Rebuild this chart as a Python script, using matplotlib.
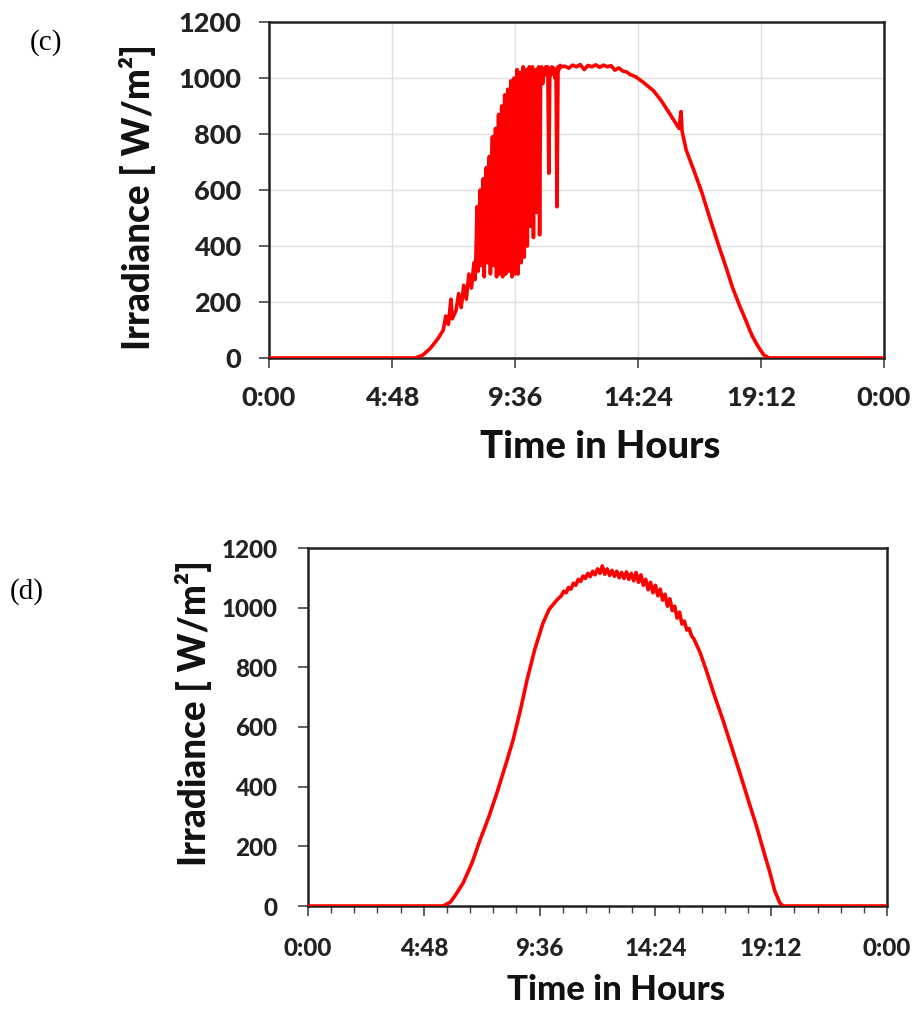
import matplotlib.pyplot as plt
import numpy as np

# panel (c): cloudy morning, clear afternoon
hours_c = [0, 5.7, 6.0, 6.3, 6.6, 6.8, 6.9, 7.0, 7.1, 7.15, 7.3, 7.4, 7.5, 7.6, 7.7, 7.8, 7.9, 8.0, 8.04,
           8.08, 8.12, 8.16, 8.20, 8.24, 8.28, 8.32, 8.36, 8.40, 8.44, 8.48, 8.52, 8.56, 8.60, 8.64, 8.68,
           8.72, 8.76, 8.80, 8.84, 8.88, 8.92, 8.96, 9.00, 9.04, 9.08, 9.12, 9.16, 9.20, 9.24, 9.28, 9.32,
           9.36, 9.40, 9.44, 9.48, 9.52, 9.56, 9.60, 9.64, 9.68, 9.72, 9.76, 9.80, 9.84, 9.88, 9.92, 9.96,
           10.00, 10.04, 10.08, 10.12, 10.16, 10.20, 10.24, 10.28, 10.32, 10.36, 10.40, 10.44, 10.48, 10.52,
           10.56, 10.60, 10.64, 10.68, 10.72, 10.76, 10.80, 10.84, 10.88, 10.92, 10.96, 11.00, 11.04, 11.08,
           11.12, 11.16, 11.20, 11.24, 11.28, 11.32, 11.36, 11.40,
           11.55, 11.7, 11.85, 12.0, 12.15, 12.3, 12.45, 12.6, 12.75, 12.9, 13.05, 13.2, 13.35, 13.5,
           13.65, 13.8, 13.95, 14.1, 14.3, 14.6, 15.0,
           15.3, 15.62, 16.0, 16.08, 16.12, 16.28, 16.6, 16.9, 17.2, 17.57, 17.85, 18.08, 18.35, 18.6,
           18.85, 19.1, 19.3, 19.5, 24]
irr_c = [0, 0, 10, 35, 70, 100, 150, 120, 210, 140, 170, 230, 180, 260, 210, 300, 250, 340, 280,
         380, 540, 310, 470, 600, 330, 560, 640, 290, 520, 680, 340, 610, 720, 300, 650,
         790, 330, 560, 820, 290, 700, 870, 300, 620, 900, 290, 760, 940, 300, 680, 960,
         310, 820, 990, 290, 700, 1000, 300, 880, 1030, 300, 760, 1020, 340, 960, 1040, 360,
         900, 1030, 400, 980, 1040, 470, 1010, 1040, 430, 990, 1030, 520, 1010, 1040,
         440, 1000, 1040, 980, 1030, 1010, 1040, 1020, 1040, 660, 1030, 1010, 1040, 1020,
         1035, 1000, 1030, 540, 1040, 1030, 1045, 1040,
         1042, 1035, 1046, 1040, 1048, 1030, 1045, 1040, 1047, 1038, 1046, 1040, 1044, 1028,
         1036, 1025, 1022, 1012, 1005, 985, 955,
         920, 875, 820, 880, 810, 743, 665, 589, 500, 396, 320, 254, 190, 136,
         80, 39, 12, 0, 0]

# panel (d): clear-sky day
hours_d = [0, 5.6, 5.9, 6.1, 6.43, 6.8, 7.13, 7.5, 7.83, 8.2, 8.5, 8.8, 9.08, 9.4, 9.74, 10.0, 10.32,
           10.5, 10.6, 10.7, 10.8, 10.9, 11.0, 11.1, 11.2, 11.3, 11.4, 11.5, 11.6, 11.7, 11.8, 11.9,
           12.0, 12.1, 12.2, 12.3, 12.4, 12.5, 12.6, 12.7, 12.8, 12.9, 13.0, 13.1, 13.2, 13.3, 13.4,
           13.5, 13.6, 13.7, 13.8, 13.9, 14.0, 14.1, 14.2, 14.3, 14.4, 14.5, 14.6, 14.7, 14.8, 14.9,
           15.0, 15.1, 15.2, 15.3, 15.4, 15.5, 15.6, 15.7, 15.8, 15.9, 16.0, 16.25,
           16.53, 16.85, 17.2, 17.55, 17.9, 18.25, 18.6, 18.9, 19.15, 19.35, 19.56, 19.7, 24]
irr_d = [0, 0, 13, 35, 77, 145, 221, 300, 379, 475, 556, 655, 758, 860, 948, 995, 1026,
         1040, 1055, 1050, 1068, 1062, 1082, 1075, 1095, 1088, 1106, 1098, 1115, 1104, 1122, 1110,
         1130, 1115, 1140, 1112, 1130, 1108, 1125, 1105, 1122, 1100, 1118, 1098, 1120, 1095, 1115,
         1090, 1118, 1085, 1110, 1075, 1095, 1060, 1085, 1050, 1075, 1040, 1062, 1025, 1045, 1005,
         1030, 990, 1005, 965, 985, 945, 955, 925, 930, 905, 895, 850,
         785, 705, 623, 535, 446, 355, 265, 180, 111, 50, 10, 0, 0]

tick_pos = [0, 4.8, 9.6, 14.4, 19.2, 24]
tick_txt = ['0:00', '4:48', '9:36', '14:24', '19:12', '0:00']
y_ticks = [0, 200, 400, 600, 800, 1000, 1200]

plt.rcParams['font.family'] = ['Lato', 'DejaVu Sans']
plt.rcParams['font.weight'] = 'bold'

fig = plt.figure(figsize=(9.18, 10.1), dpi=100)
W, H = 918, 1010


def box(l, t, r, b):
    return [l / W, 1 - b / H, (r - l) / W, (b - t) / H]


def style(ax, fs, pad):
    ax.set_xlim(0, 24)
    ax.set_ylim(0, 1200)
    ax.set_xticks(tick_pos)
    ax.set_xticklabels(tick_txt)
    ax.set_yticks(y_ticks)
    for s in ax.spines.values():
        s.set_linewidth(1.8)
        s.set_color('#222222')
    ax.tick_params(axis='both', which='major', direction='out', length=7, width=1.2,
                   labelsize=fs, pad=pad, color='#444444')
    for lab in ax.get_xticklabels() + ax.get_yticklabels():
        lab.set_fontweight('black')
        lab.set_color('#222222')


# (c)
ax1 = fig.add_axes(box(269, 22, 884, 358))
ax1.plot(hours_c, irr_c, color='#ff0000', lw=2.6, zorder=3)
style(ax1, 19.5, 13)
ax1.grid(True, color='#e0e0e0', lw=1.0)
ax1.set_axisbelow(True)
fig.text(137 / W, 1 - 197 / H, 'Irradiance [ W/m²]', rotation=90, ha='center', va='center',
         fontsize=26.5, fontweight='black', color='#111111')
fig.text(600 / W, 1 - 447 / H, 'Time in Hours', ha='center', va='center',
         fontsize=27.5, fontweight='black', color='#111111')
fig.text(46 / W, 1 - 43 / H, '(c)', ha='center', va='center', fontsize=21,
         family='Liberation Serif', fontweight='normal')

# (d)
ax2 = fig.add_axes(box(308, 548, 887, 906))
ax2.plot(hours_d, irr_d, color='#ff0000', lw=2.6, zorder=3)
style(ax2, 17.5, 15)
ax2.set_xticks(np.arange(0, 24.01, 0.96), minor=True)
ax2.tick_params(axis='x', which='minor', direction='out', length=5, width=1.0, color='#444444')
fig.text(193 / W, 1 - 713 / H, 'Irradiance [ W/m²]', rotation=90, ha='center', va='center',
         fontsize=26.5, fontweight='black', color='#111111')
fig.text(616 / W, 1 - 990 / H, 'Time in Hours', ha='center', va='center',
         fontsize=25, fontweight='black', color='#111111')
fig.text(27 / W, 1 - 592 / H, '(d)', ha='center', va='center', fontsize=21,
         family='Liberation Serif', fontweight='normal')

fig.savefig('out.png', dpi=100)
